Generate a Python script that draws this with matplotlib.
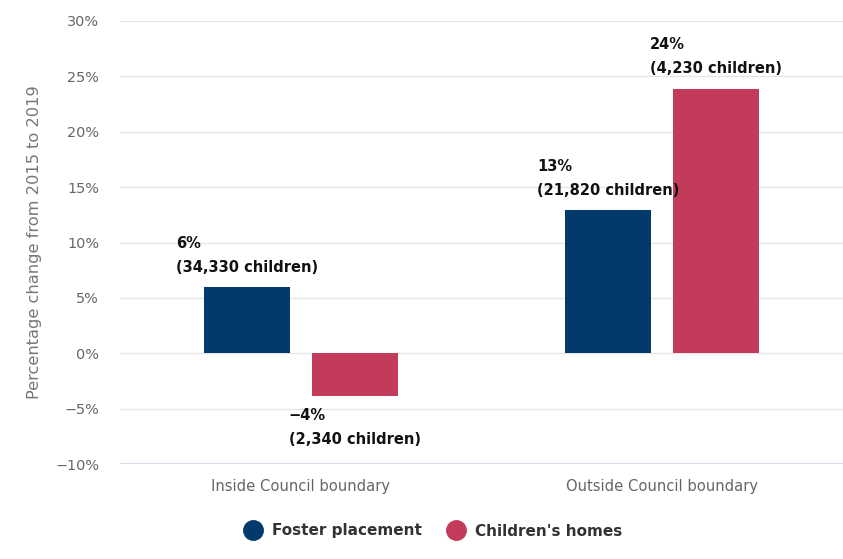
import matplotlib
matplotlib.use("Agg")
import matplotlib.pyplot as plt
from matplotlib.lines import Line2D
import numpy as np

categories = ["Inside Council boundary", "Outside Council boundary"]
series_names = ["Foster placement", "Children's homes"]
foster = [5.95, 12.9]
homes = [-3.9, 23.9]
foster_counts = ["34,330", "21,820"]
homes_counts = ["2,340", "4,230"]
colors = ["#023a6b", "#c23b5b"]
yticks = [-10, -5, 0, 5, 10, 15, 20, 25, 30]

plt.rcParams['font.family'] = ['DejaVu Sans']
fig = plt.figure(figsize=(8.43, 5.59), dpi=100)
ax = fig.add_axes([120/843, 1-464/559, 1-120/843, (464-21)/559])

x = np.arange(len(categories))
w = 0.238
off = 0.1495
ax.bar(x - off, foster, width=w, color=colors[0], zorder=3)
ax.bar(x + off, homes, width=w, color=colors[1], zorder=3)

for vals, counts, xs in [(foster, foster_counts, x - off), (homes, homes_counts, x + off)]:
    for v, c, xi in zip(vals, counts, xs):
        txt = f"{round(v)}%\n({c} children)".replace("-", "\u2212")
        if v >= 0:
            ax.text(xi, v + 1.1, txt, ha='center', va='bottom', ma='left',
                    fontsize=10.5, fontweight='bold', color='#111111', linespacing=1.75, zorder=4)
        else:
            ax.text(xi, v - 1.0, txt, ha='center', va='top', ma='left',
                    fontsize=10.5, fontweight='bold', color='#111111', linespacing=1.75, zorder=4)

ax.set_xlim(-0.5, 1.5)
ax.set_ylim(-10, 30)
ax.set_yticks(yticks)
ax.set_yticklabels([f"{t}%".replace("-", "\u2212") for t in yticks])
ax.set_xticks(x)
ax.set_xticklabels(categories)
ax.tick_params(axis='y', length=0, pad=15, labelsize=10.4, labelcolor='#666666')
ax.tick_params(axis='x', length=0, pad=11, labelsize=10.6, labelcolor='#666666')
ax.grid(axis='y', color='#e6e6e6', linewidth=1, zorder=0)
ax.axhline(-10, color='#ccd6eb', linewidth=1.2, zorder=1)
for s in ax.spines.values():
    s.set_visible(False)
ax.set_ylabel("Percentage change from 2015 to 2019", fontsize=11.7, color='#777777')
ax.yaxis.set_label_coords(-78/723, 0.5)

handles = [Line2D([0], [0], marker='o', linestyle='', markersize=14, markerfacecolor=c, markeredgecolor=c)
           for c in colors]
leg = fig.legend(handles, series_names, loc='center', bbox_to_anchor=(430/843, 1-531/559), ncol=2,
                 frameon=False, prop={'size': 11, 'weight': 'bold'}, handletextpad=0.25, columnspacing=1.2)
for t in leg.get_texts():
    t.set_color('#333333')

fig.savefig("out.png", dpi=100, facecolor='white')
